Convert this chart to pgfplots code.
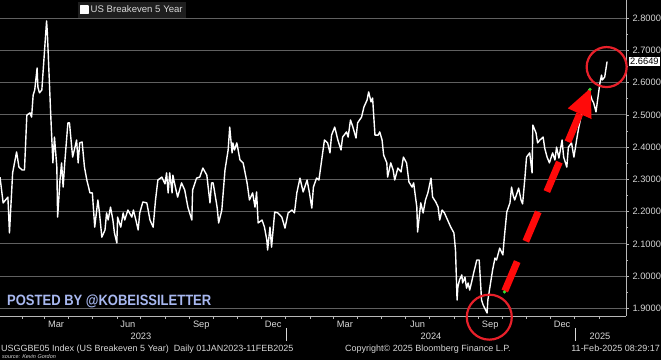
\documentclass[border=0pt]{standalone}
\usepackage{fontspec}
\setmainfont{Liberation Sans}
\usepackage{pgfplots}
\pgfplotsset{compat=1.18}
\definecolor{gridc}{HTML}{606060}
\definecolor{axc}{HTML}{B8B8B8}
\definecolor{txt}{HTML}{D8D8D8}
\definecolor{posted}{HTML}{A8B8F0}
\definecolor{annred}{HTML}{E8202A}
\definecolor{arrred}{HTML}{FF0A0A}
\definecolor{legbg}{HTML}{1E1E1E}
\definecolor{grn}{HTML}{33DD33}
\pgfplotstableread{
day v
3 2.307
7 2.227
10 2.236
13 2.245
15 2.134
19 2.320
24 2.385
27 2.338
31 2.329
34 2.329
37 2.499
41 2.506
43 2.493
45 2.561
47 2.577
50 2.645
51 2.586
53 2.568
56 2.577
62 2.791
63 2.754
67 2.515
70 2.351
72 2.431
75 2.338
76 2.183
79 2.298
81 2.351
83 2.276
85 2.351
89 2.475
91 2.475
95 2.369
98 2.400
100 2.422
102 2.351
104 2.413
107 2.416
110 2.338
113 2.298
117 2.258
120 2.258
123 2.152
127 2.236
129 2.196
132 2.121
136 2.143
138 2.196
140 2.174
143 2.214
146 2.174
148 2.134
151 2.103
152 2.183
156 2.152
159 2.196
161 2.174
165 2.205
170 2.183
172 2.205
176 2.165
178 2.143
180 2.196
184 2.230
189 2.227
193 2.174
197 2.152
200 2.236
203 2.298
208 2.307
212 2.286
214 2.320
216 2.258
218 2.320
221 2.258
222 2.313
224 2.289
228 2.245
233 2.289
237 2.267
241 2.214
246 2.174
247 2.267
252 2.304
256 2.307
260 2.335
265 2.313
269 2.227
271 2.289
273 2.289
278 2.214
280 2.165
284 2.205
288 2.329
292 2.391
294 2.462
297 2.382
298 2.413
300 2.391
303 2.413
307 2.360
311 2.351
316 2.289
319 2.236
323 2.258
326 2.214
328 2.261
330 2.165
335 2.174
338 2.152
341 2.112
342 2.081
345 2.152
347 2.090
351 2.199
355 2.196
360 2.183
364 2.149
368 2.196
373 2.205
376 2.196
379 2.258
383 2.304
387 2.261
392 2.298
395 2.258
398 2.211
400 2.276
404 2.304
407 2.298
411 2.369
414 2.422
418 2.413
421 2.382
423 2.437
427 2.462
431 2.422
435 2.391
437 2.431
442 2.447
444 2.431
447 2.484
450 2.462
454 2.428
456 2.475
461 2.493
464 2.524
468 2.546
470 2.571
473 2.540
475 2.552
478 2.437
482 2.437
484 2.447
487 2.422
489 2.375
493 2.351
494 2.307
498 2.351
501 2.329
503 2.298
507 2.335
511 2.323
514 2.369
518 2.351
521 2.292
525 2.276
527 2.289
531 2.214
532 2.137
536 2.227
539 2.196
542 2.236
545 2.258
549 2.304
551 2.245
555 2.230
558 2.214
560 2.174
563 2.205
566 2.196
570 2.174
574 2.152
578 2.134
580 2.081
582 1.926
583 1.966
585 1.988
588 2.004
589 1.979
592 1.997
594 1.963
596 1.979
598 1.957
601 1.988
603 2.010
607 2.050
610 2.050
611 2.010
613 1.926
615 1.911
617 1.901
620 1.886
621 1.926
623 1.957
627 2.019
630 2.056
632 2.050
636 2.087
640 2.066
642 2.124
645 2.199
649 2.227
651 2.276
653 2.251
655 2.236
658 2.258
660 2.273
663 2.236
665 2.224
668 2.307
670 2.369
674 2.382
677 2.320
678 2.468
682 2.444
684 2.413
687 2.422
691 2.431
693 2.397
696 2.369
699 2.351
703 2.382
706 2.360
708 2.400
711 2.366
715 2.422
717 2.369
721 2.338
723 2.400
727 2.413
730 2.369
732 2.400
734 2.431
736 2.459
740 2.506
742 2.537
746 2.561
749 2.577
753 2.546
755 2.537
758 2.509
760 2.546
763 2.599
765 2.623
766 2.608
769 2.617
772 2.6649
}\breakeven
\begin{document}
\begin{tikzpicture}
\fill[black] (0,0) rectangle (661bp,360bp);
\path[use as bounding box] (0,0) rectangle (661bp,360bp);
\begin{axis}[
  at={(0bp,44bp)}, anchor=south west,
  width=626bp, height=316bp, scale only axis,
  xmin=3, xmax=796, ymin=1.8766, ymax=2.8558,
  clip=false,
  axis x line*=bottom, axis y line*=right,
  axis line style={axc, line width=0.8bp},
  tick style={axc, line width=0.6bp},
  tick align=outside,
  major tick length=3bp, minor tick length=2bp,
  ytick={1.9,2.0,2.1,2.2,2.3,2.4,2.5,2.6,2.7,2.8},
  minor ytick={1.95,2.05,2.15,2.25,2.35,2.45,2.55,2.65,2.75},
  ymajorgrids, grid style={gridc, line width=0.9bp},
  yticklabel style={font=\fontsize{9.3bp}{10bp}\selectfont, text=txt, /pgf/number format/.cd, fixed, fixed zerofill, precision=4, assume math mode=true},
  xtick={31,59,90,120,151,181,212,243,273,304,334,365,396,425,456,486,517,547,578,609,639,670,700,731,762},
  xticklabels={},
  extra x ticks={74,165,258,349,440,532,624,715},
  extra x tick labels={Mar,Jun,Sep,Dec,Mar,Jun,Sep,Dec},
  extra x tick style={major tick length=0pt, xticklabel style={font=\fontsize{9.3bp}{10bp}\selectfont, text=txt, yshift=-1.5bp}},
  legend style={at={(0.1246,0.9937)}, anchor=north west, fill=legbg, draw=none, text=txt,
    font=\fontsize{9.6bp}{10bp}\selectfont, inner sep=1.5bp, legend cell align=left},
  legend image code/.code={\fill[white] (0bp,-3.8bp) rectangle (7.6bp,3.8bp);},
]
\addplot[white, line width=1.4bp, line join=round] table[x=day, y=v] {\breakeven};
\addlegendentry{US Breakeven 5 Year}
\draw[annred, line width=2.2bp] (axis cs:622.8,1.873) circle[radius=22.5bp];
\draw[annred, line width=2.2bp] (axis cs:771.5,2.648) circle[radius=20bp];
\draw[arrred, line width=7bp, dash pattern=on 32bp off 22bp] (axis cs:642.4,1.954) -- (axis cs:737.4,2.503);
\fill[arrred] (axis cs:751.3,2.583) -- (axis cs:722.2,2.520) -- (axis cs:752.3,2.487) -- cycle;
\addplot[only marks, mark=*, mark size=1.4bp, grn, forget plot] coordinates {(642,1.951) (750.4,2.579)};
\end{axis}
% value tag
\node[anchor=west, fill=white, text=black, inner sep=1bp, font=\fontsize{9.3bp}{10bp}\selectfont] at (629bp,298.5bp) {2.6649};
% year labels and separators
\node[text=txt, font=\fontsize{9.3bp}{10bp}\selectfont] at (141bp,24bp) {2023};
\node[text=txt, font=\fontsize{9.3bp}{10bp}\selectfont] at (431bp,24bp) {2024};
\node[text=txt, font=\fontsize{9.3bp}{10bp}\selectfont] at (600bp,24bp) {2025};
\draw[txt, line width=0.8bp] (286bp,32bp) -- (286bp,19bp);
\draw[txt, line width=0.8bp] (575bp,32bp) -- (575bp,19bp);
% watermark
\node[anchor=base west, inner sep=0pt, text=posted, font=\bfseries\fontsize{13bp}{14bp}\selectfont] at (7bp,54bp) {\scalebox{1}[1.15]{POSTED BY @KOBEISSILETTER}};
% footer
\node[anchor=base west, inner sep=0pt, text=txt, font=\fontsize{9bp}{10bp}\selectfont] at (1bp,9bp) {USGGBE05 Index (US Breakeven 5 Year)\ \ Daily 01JAN2023-11FEB2025};
\node[anchor=base west, inner sep=0pt, text=txt, font=\fontsize{9bp}{10bp}\selectfont] at (345bp,9bp) {Copyright© 2025 Bloomberg Finance L.P.};
\node[anchor=base east, inner sep=0pt, text=txt, font=\fontsize{9bp}{10bp}\selectfont] at (660bp,9bp) {11-Feb-2025 08:29:17};
\node[anchor=base west, inner sep=0pt, text=txt, font=\itshape\fontsize{5.5bp}{6bp}\selectfont] at (2bp,2bp) {source: Kevin Gordon};
\end{tikzpicture}
\end{document}
